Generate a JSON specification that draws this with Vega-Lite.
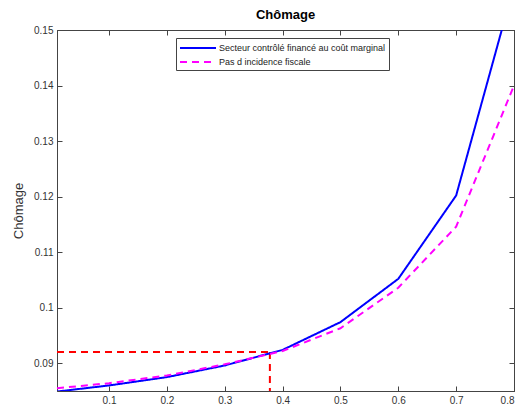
{
  "$schema": "https://vega.github.io/schema/vega-lite/v6.json",
  "autosize": {"type": "none"},
  "width": 457,
  "height": 361,
  "padding": {"left": 57, "top": 30, "right": 11, "bottom": 20},
  "background": "white",
  "title": {"text": "Chômage", "font": "Liberation Sans", "fontSize": 13, "fontWeight": "bold", "color": "#000", "offset": 3, "anchor": "middle"},
  "config": {
    "view": {"stroke": "#444", "strokeWidth": 1},
    "axis": {"labelFont": "Liberation Sans", "labelFontSize": 10, "labelColor": "#333", "domainColor": "#444", "tickColor": "#444", "grid": false, "titleFont": "Liberation Sans", "titleFontWeight": "normal", "titleColor": "#333", "titleFontSize": 13},
    "legend": {"symbolType": "M-1,0H5", "symbolSize": 144, "symbolStrokeWidth": 2, "labelFont": "Liberation Sans", "labelFontSize": 9, "labelColor": "#222", "labelLimit": 0, "strokeColor": "#444", "fillColor": "white", "padding": 3, "rowPadding": 2, "labelOffset": 26}
  },
  "datasets": {
    "curves": [
      {"x": 0.01, "y": 0.0849, "s": "Secteur contrôlé financé au coût marginal"},
      {"x": 0.1, "y": 0.0860, "s": "Secteur contrôlé financé au coût marginal"},
      {"x": 0.2, "y": 0.0875, "s": "Secteur contrôlé financé au coût marginal"},
      {"x": 0.3, "y": 0.0896, "s": "Secteur contrôlé financé au coût marginal"},
      {"x": 0.4, "y": 0.0924, "s": "Secteur contrôlé financé au coût marginal"},
      {"x": 0.5, "y": 0.0974, "s": "Secteur contrôlé financé au coût marginal"},
      {"x": 0.6, "y": 0.1052, "s": "Secteur contrôlé financé au coût marginal"},
      {"x": 0.7, "y": 0.1202, "s": "Secteur contrôlé financé au coût marginal"},
      {"x": 0.8, "y": 0.158, "s": "Secteur contrôlé financé au coût marginal"},
      {"x": 0.01, "y": 0.0855, "s": "Pas d incidence fiscale"},
      {"x": 0.1, "y": 0.0864, "s": "Pas d incidence fiscale"},
      {"x": 0.2, "y": 0.0878, "s": "Pas d incidence fiscale"},
      {"x": 0.3, "y": 0.0898, "s": "Pas d incidence fiscale"},
      {"x": 0.4, "y": 0.0922, "s": "Pas d incidence fiscale"},
      {"x": 0.5, "y": 0.0963, "s": "Pas d incidence fiscale"},
      {"x": 0.6, "y": 0.1036, "s": "Pas d incidence fiscale"},
      {"x": 0.7, "y": 0.1146, "s": "Pas d incidence fiscale"},
      {"x": 0.8, "y": 0.1400, "s": "Pas d incidence fiscale"}
    ],
    "ref": [
      {"x": 0.01, "y": 0.092, "g": "h"},
      {"x": 0.378, "y": 0.092, "g": "h"},
      {"x": 0.378, "y": 0.092, "g": "v"},
      {"x": 0.378, "y": 0.085, "g": "v"}
    ]
  },
  "resolve": {"axis": {"x": "independent", "y": "independent"}},
  "layer": [
    {
      "data": {"name": "ref"},
      "mark": {"type": "line", "color": "#ff0000", "strokeWidth": 2, "strokeDash": [7, 5], "clip": true},
      "encoding": {
        "x": {"field": "x", "type": "quantitative", "scale": {"domain": [0.01, 0.8], "nice": false, "zero": false},
              "axis": {"orient": "bottom", "values": [0.1, 0.2, 0.3, 0.4, 0.5, 0.6, 0.7, 0.8], "format": ".1f", "tickSize": -5, "labelPadding": 9, "title": null}},
        "y": {"field": "y", "type": "quantitative", "scale": {"domain": [0.085, 0.15], "nice": false, "zero": false},
              "axis": {"orient": "left", "values": [0.09, 0.1, 0.11, 0.12, 0.13, 0.14, 0.15], "format": ".2~f", "tickSize": -5, "labelPadding": 9, "title": "Chômage", "titlePadding": 8}},
        "detail": {"field": "g"}
      }
    },
    {
      "data": {"name": "curves"},
      "mark": {"type": "line", "strokeWidth": 2, "clip": true},
      "encoding": {
        "x": {"field": "x", "type": "quantitative",
              "axis": {"orient": "top", "values": [0.1, 0.2, 0.3, 0.4, 0.5, 0.6, 0.7, 0.8], "tickSize": -5, "labels": false, "title": null}},
        "y": {"field": "y", "type": "quantitative",
              "axis": {"orient": "right", "values": [0.09, 0.1, 0.11, 0.12, 0.13, 0.14, 0.15], "tickSize": -5, "labels": false, "title": null}},
        "color": {"field": "s", "type": "nominal",
                  "scale": {"domain": ["Secteur contrôlé financé au coût marginal", "Pas d incidence fiscale"], "range": ["#0000ff", "#ff00ff"]},
                  "legend": {"title": null, "orient": "none", "legendX": 119, "legendY": 8}},
        "strokeDash": {"field": "s", "type": "nominal",
                  "scale": {"domain": ["Secteur contrôlé financé au coût marginal", "Pas d incidence fiscale"], "range": [[1, 0], [7, 5]]},
                  "legend": {"title": null, "orient": "none", "legendX": 119, "legendY": 8}}
      }
    }
  ]
}
